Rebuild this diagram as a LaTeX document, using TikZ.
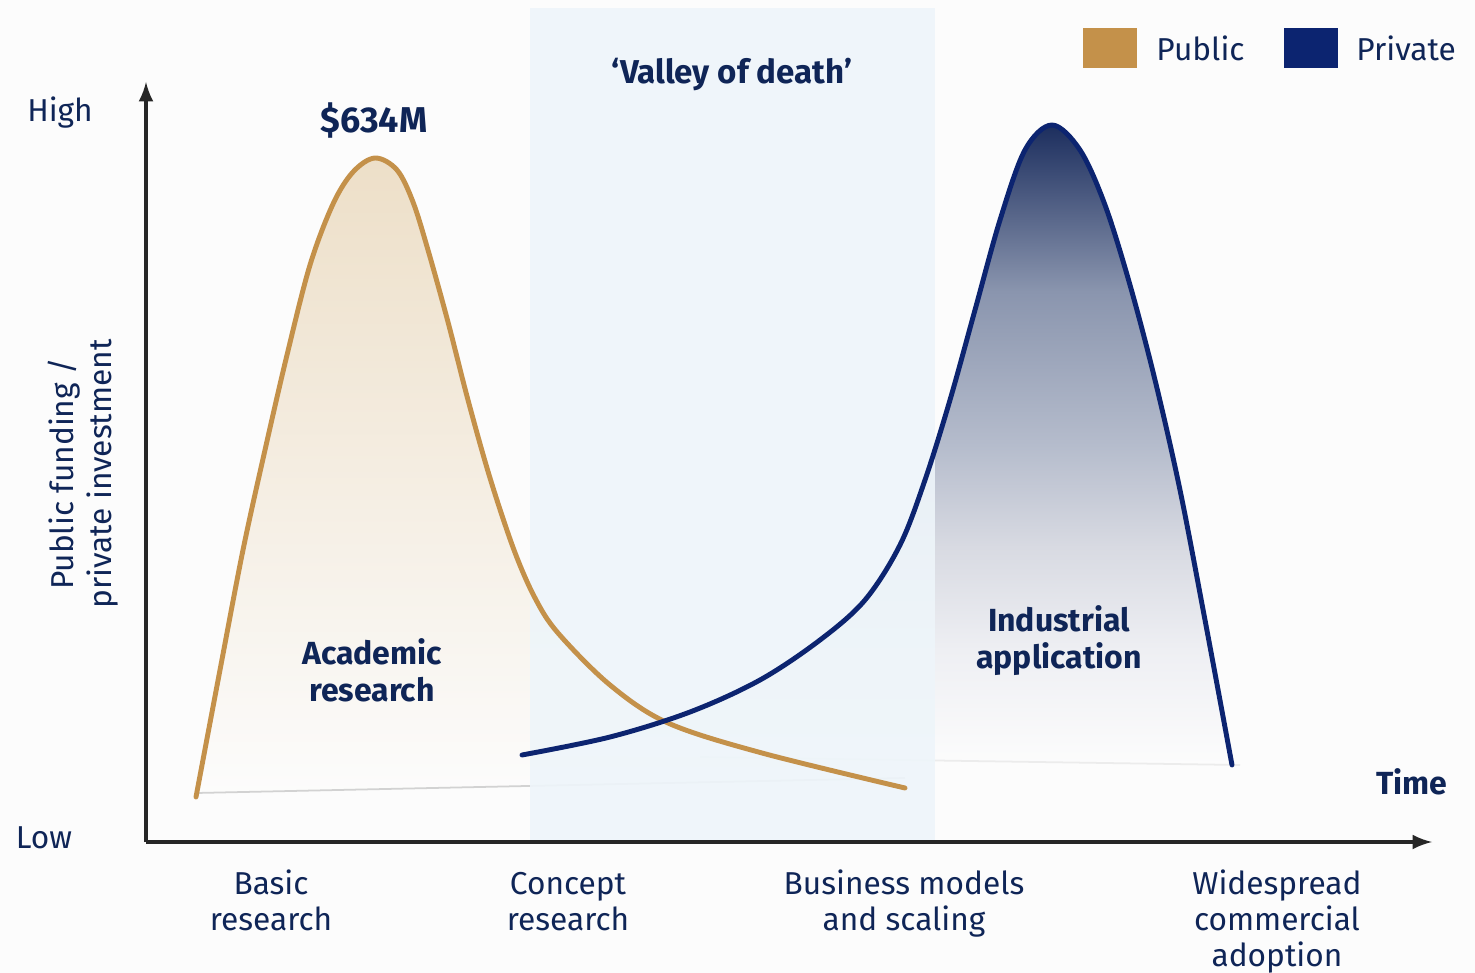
\documentclass[tikz,border=0pt]{standalone}
\usepackage{fontspec}
\setmainfont{Fira Sans}
\usetikzlibrary{arrows, positioning}
\definecolor{PublicTan}{HTML}{C4914A}
\definecolor{PublicFill}{HTML}{EDDFC8}
\definecolor{PrivateNavy}{HTML}{0C2470}
\definecolor{LabelNavy}{HTML}{0F2557}
\definecolor{ValleyBlue}{HTML}{EEF5FA}
\definecolor{PaperGrey}{HTML}{FCFCFC}
\definecolor{FadeA}{HTML}{EEEFF3}
\definecolor{FadeB}{HTML}{D8DAE2}
\definecolor{FadeC}{HTML}{B5BCCC}
\definecolor{FadeD}{HTML}{8A95AE}
\definecolor{FadeE}{HTML}{1C2E5E}
% fade of the private area, top = 75bp, bottom = 25bp
\pgfdeclareverticalshading{privateFade}{100bp}{%
	color(0bp)=(PaperGrey); color(25bp)=(PaperGrey);
	color(34bp)=(FadeA); color(42bp)=(FadeB);
	color(50bp)=(FadeC); color(62bp)=(FadeD);
	color(75bp)=(FadeE); color(100bp)=(FadeE)}

\begin{document}
\begin{tikzpicture}[x=0.01cm, y=-0.01cm]
		\tikzstyle{AxisLine} = [line width=0.9pt, draw=black!85, ->, >=latex]
		\tikzstyle{AxisName} = [text=LabelNavy, font=\fontsize{9}{11}\selectfont]
		\tikzstyle{StageName} = [text=LabelNavy, align=center, anchor=north, font=\fontsize{9}{10.2}\selectfont]
		\tikzstyle{PhaseName} = [text=LabelNavy, align=center, font=\fontsize{9.1}{10.5}\selectfont\bfseries]
		\tikzstyle{LegendKey} = [rectangle, minimum width=0.54cm, minimum height=0.39cm, inner sep=0pt]
		\tikzstyle{LegendName} = [text=LabelNavy, font=\fontsize{9}{11}\selectfont, inner sep=0pt]
		\tikzstyle{Curve} = [line width=1.4pt, line cap=round]
		
		% page
		\fill[PaperGrey] (0,0) rectangle (1475,973);
		\useasboundingbox (0,0) rectangle (1475,973);
		
		% shaded areas under the curves
		\shade[top color=PublicFill, bottom color=PaperGrey]
			plot[smooth, tension=0.55] coordinates {(196,797) (220,670) (243,550) (265,450) (287,355) (310,265) (333,204) (353,172) (375,158) (397,170) (413,202) (428,250) (448,322) (468,400) (490,478) (514,550) (535,598) (558,633) (610,685) (668,723) (762,753) (905,788)}
			-- (905,778) -- (196,793) -- cycle;
		\shade[shading=privateFade]
			plot[smooth, tension=0.55] coordinates {(522,755) (610,737) (690,712) (760,680) (820,640) (865,600) (900,545) (925,480) (950,400) (975,310) (1000,220) (1025,150) (1052,125) (1080,150) (1105,205) (1130,285) (1155,380) (1180,490) (1205,620) (1232,765)}
			-- cycle;
		\draw[gray!35, line width=0.5pt] (196,793) -- (905,778);
		\draw[gray!15, line width=0.5pt] (700,757) -- (1240,765);
		
		% valley band
		\fill[ValleyBlue, opacity=0.9] (530,8) rectangle (935,842);
		
		% curves
		\draw[Curve, PublicTan] plot[smooth, tension=0.55] coordinates {(196,797) (220,670) (243,550) (265,450) (287,355) (310,265) (333,204) (353,172) (375,158) (397,170) (413,202) (428,250) (448,322) (468,400) (490,478) (514,550) (535,598) (558,633) (610,685) (668,723) (762,753) (905,788)};
		\draw[Curve, PrivateNavy] plot[smooth, tension=0.55] coordinates {(522,755) (610,737) (690,712) (760,680) (820,640) (865,600) (900,545) (925,480) (950,400) (975,310) (1000,220) (1025,150) (1052,125) (1080,150) (1105,205) (1130,285) (1155,380) (1180,490) (1205,620) (1232,765)};
		
		% axes
		\coordinate (origin) at (146,842);
		\coordinate (yTop) at (146,82);
		\coordinate (xEnd) at (1432,842);
		\draw[AxisLine] (origin) -- (yTop);
		\draw[AxisLine] (origin) -- (xEnd);
		
		\node (high) [AxisName] at (60,113) {High};
		\node (low) [AxisName] at (44,838) {Low};
		\node (yName) [AxisName, align=center, rotate=90, font=\fontsize{9}{11}\selectfont] at (83,474) {Public funding /\\private investment};
		\node (time) [PhaseName] at (1412,782) {Time};
		
		% headings
		\node (peakValue) [PhaseName, font=\fontsize{10.2}{12}\selectfont\bfseries] at (374,121) {\$634M};
		\node (valley) [PhaseName, font=\fontsize{9.4}{12}\selectfont\bfseries] at (732,75) {‘Valley of death’};
		\node (academic) [PhaseName] at (372,670) {Academic\\research};
		\node (industrial) [PhaseName] at (1059,641) {Industrial\\application};
		
		% stages along the time axis
		\node (basic) [StageName] at (271,857) {\strut Basic\\research};
		\node (concept) [StageName] at (568,857) {\strut Concept\\research};
		\node (business) [StageName] at (904,857) {\strut Business models\\and scaling};
		\node (widespread) [StageName] at (1277,857) {\strut Widespread\\commercial\\adoption};
		
		% legend
		\node (publicKey) [LegendKey, fill=PublicTan] at (1110,48) {};
		\node (publicName) [LegendName, right = 0.18cm of publicKey] {Public};
		\node (privateKey) [LegendKey, fill=PrivateNavy] at (1311,48) {};
		\node (privateName) [LegendName, right = 0.17cm of privateKey] {Private};
\end{tikzpicture}
\end{document}
